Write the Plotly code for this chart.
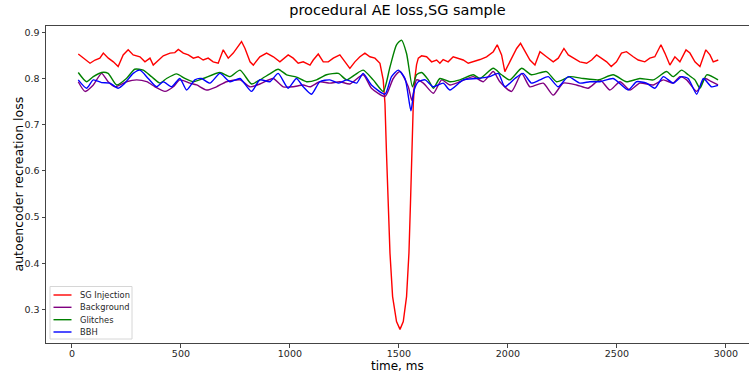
import plotly.graph_objects as go

# ---- data ----
sg_t = [29, 52, 83, 106, 128, 144, 167, 190, 212, 235, 258, 281, 312, 335, 358, 373, 396, 419, 450, 472,
        488, 511, 534, 557, 579, 602, 625, 648, 671, 694, 717, 740, 778, 794, 817, 832, 862, 893, 924, 954,
        992, 1015, 1038, 1061, 1092, 1107, 1130, 1153, 1176, 1199, 1229, 1252, 1275, 1298, 1321, 1344, 1367,
        1390, 1413, 1428, 1436, 1443, 1451, 1459, 1471, 1489, 1505, 1520, 1535, 1546, 1553, 1559, 1566,
        1573, 1581, 1589, 1604, 1627, 1650, 1673, 1688, 1703, 1726, 1749, 1772, 1795, 1818, 1841, 1872,
        1902, 1933, 1951, 1971, 1986, 2009, 2040, 2058, 2078, 2101, 2124, 2147, 2177, 2208, 2231, 2257,
        2277, 2300, 2330, 2361, 2384, 2407, 2430, 2453, 2474, 2498, 2521, 2544, 2575, 2598, 2628, 2651,
        2674, 2702, 2720, 2743, 2766, 2789, 2817, 2835, 2858, 2881, 2908, 2927, 2942, 2965]
sg_loss = [0.853, 0.844, 0.833, 0.840, 0.844, 0.855, 0.844, 0.836, 0.826, 0.851, 0.862, 0.851, 0.847, 0.836,
           0.844, 0.829, 0.840, 0.849, 0.855, 0.856, 0.863, 0.855, 0.851, 0.844, 0.847, 0.840, 0.844, 0.836,
           0.833, 0.862, 0.844, 0.855, 0.880, 0.865, 0.836, 0.829, 0.847, 0.855, 0.847, 0.836, 0.851, 0.844,
           0.833, 0.836, 0.829, 0.840, 0.853, 0.836, 0.836, 0.844, 0.851, 0.836, 0.822, 0.836, 0.847, 0.855,
           0.847, 0.844, 0.833, 0.797, 0.746, 0.638, 0.530, 0.422, 0.328, 0.274, 0.257, 0.274, 0.328, 0.422,
           0.530, 0.638, 0.746, 0.800, 0.830, 0.844, 0.849, 0.847, 0.836, 0.840, 0.833, 0.841, 0.836, 0.847,
           0.844, 0.840, 0.833, 0.836, 0.841, 0.847, 0.858, 0.873, 0.851, 0.815, 0.836, 0.865, 0.876, 0.858,
           0.840, 0.829, 0.858, 0.847, 0.836, 0.844, 0.865, 0.851, 0.844, 0.836, 0.833, 0.840, 0.851, 0.844,
           0.836, 0.826, 0.836, 0.855, 0.858, 0.847, 0.840, 0.836, 0.844, 0.847, 0.873, 0.855, 0.829, 0.847,
           0.836, 0.862, 0.855, 0.836, 0.826, 0.862, 0.851, 0.836, 0.840]

bg_t = [29, 60, 98, 136, 166, 197, 250, 297, 343, 381, 427, 465, 495, 541, 572, 618, 663, 709, 771, 817,
        862, 923, 969, 1015, 1061, 1092, 1137, 1183, 1229, 1275, 1336, 1374, 1436, 1474, 1505, 1543, 1559,
        1581, 1612, 1658, 1696, 1734, 1780, 1841, 1887, 1933, 1963, 2017, 2063, 2101, 2162, 2208, 2254,
        2315, 2368, 2422, 2468, 2514, 2560, 2605, 2667, 2713, 2758, 2789, 2820, 2866, 2904, 2934, 2964]
bg_loss = [0.793, 0.772, 0.786, 0.811, 0.793, 0.782, 0.793, 0.797, 0.793, 0.782, 0.772, 0.782, 0.797, 0.790,
           0.786, 0.775, 0.782, 0.793, 0.797, 0.782, 0.788, 0.800, 0.782, 0.782, 0.786, 0.782, 0.793, 0.790,
           0.793, 0.788, 0.808, 0.779, 0.761, 0.800, 0.815, 0.782, 0.753, 0.797, 0.790, 0.768, 0.797, 0.786,
           0.793, 0.804, 0.793, 0.815, 0.793, 0.772, 0.811, 0.782, 0.790, 0.764, 0.790, 0.786, 0.779, 0.797,
           0.775, 0.793, 0.775, 0.790, 0.786, 0.797, 0.790, 0.804, 0.797, 0.772, 0.800, 0.793, 0.786]

gl_t = [29, 67, 98, 136, 166, 205, 250, 288, 327, 365, 404, 434, 480, 518, 556, 602, 679, 725, 771, 824,
        862, 908, 946, 985, 1030, 1076, 1122, 1168, 1222, 1260, 1298, 1336, 1382, 1428, 1459, 1489, 1512,
        1535, 1562, 1581, 1604, 1635, 1658, 1688, 1734, 1780, 1841, 1872, 1933, 1971, 2009, 2063, 2108,
        2177, 2223, 2284, 2346, 2414, 2483, 2544, 2605, 2667, 2728, 2758, 2797, 2827, 2858, 2881, 2912, 2964]
gl_loss = [0.813, 0.793, 0.804, 0.813, 0.811, 0.786, 0.800, 0.820, 0.818, 0.804, 0.790, 0.800, 0.810, 0.800,
           0.793, 0.800, 0.813, 0.804, 0.818, 0.788, 0.797, 0.810, 0.820, 0.808, 0.803, 0.793, 0.797, 0.808,
           0.811, 0.797, 0.808, 0.818, 0.797, 0.772, 0.825, 0.873, 0.883, 0.854, 0.782, 0.808, 0.813, 0.797,
           0.779, 0.800, 0.793, 0.797, 0.808, 0.800, 0.822, 0.808, 0.797, 0.822, 0.808, 0.815, 0.793, 0.804,
           0.800, 0.797, 0.808, 0.793, 0.800, 0.797, 0.815, 0.804, 0.818, 0.808, 0.797, 0.779, 0.808, 0.797]

bbh_t = [29, 67, 98, 136, 174, 212, 243, 281, 312, 350, 388, 419, 457, 495, 526, 564, 594, 633, 679, 725,
         771, 824, 862, 908, 946, 992, 1030, 1061, 1099, 1137, 1183, 1222, 1260, 1306, 1336, 1374, 1436,
         1466, 1497, 1528, 1555, 1570, 1589, 1620, 1658, 1703, 1734, 1795, 1856, 1917, 1956, 1986, 2032,
         2070, 2108, 2147, 2185, 2231, 2277, 2330, 2376, 2422, 2483, 2552, 2590, 2636, 2674, 2713, 2758,
         2797, 2827, 2866, 2897, 2934, 2964]
bbh_loss = [0.797, 0.779, 0.797, 0.791, 0.790, 0.779, 0.790, 0.811, 0.818, 0.800, 0.782, 0.793, 0.782, 0.800,
            0.775, 0.797, 0.800, 0.790, 0.811, 0.793, 0.800, 0.772, 0.797, 0.793, 0.811, 0.779, 0.800, 0.782,
            0.766, 0.793, 0.797, 0.790, 0.797, 0.790, 0.811, 0.786, 0.766, 0.804, 0.818, 0.800, 0.730, 0.775,
            0.793, 0.797, 0.782, 0.790, 0.775, 0.797, 0.800, 0.804, 0.811, 0.782, 0.800, 0.811, 0.790, 0.797,
            0.804, 0.782, 0.804, 0.790, 0.793, 0.793, 0.800, 0.775, 0.793, 0.790, 0.779, 0.804, 0.790, 0.804,
            0.800, 0.766, 0.800, 0.782, 0.785]

series_names = ["SG Injection", "Background", "Glitches", "BBH"]
series_colors = ["#ff0000", "#800080", "#008000", "#0000ff"]
x_ticks = [0, 500, 1000, 1500, 2000, 2500, 3000]
y_ticks = [0.3, 0.4, 0.5, 0.6, 0.7, 0.8, 0.9]

FONT = "DejaVu Sans"
W, H = 749, 374
ML, MR, MT, MB = 46, 0, 26, 31
PW, PH = W - ML - MR, H - MT - MB


def px_x(p):  # pixel -> paper fraction
    return (p - ML) / PW


def px_y(p):
    return (H - MB - p) / PH


fig = go.Figure()
data = [(sg_t, sg_loss, "linear"), (bg_t, bg_loss, "spline"), (gl_t, gl_loss, "spline"), (bbh_t, bbh_loss, "spline")]
for (t, v, shp), name, col in zip(data, series_names, series_colors):
    line = dict(color=col, width=1.4, shape=shp)
    if shp == "spline":
        line["smoothing"] = 0.6
    fig.add_trace(go.Scatter(x=t, y=v, mode="lines", name=name, line=line, showlegend=False))

# custom legend (matplotlib-like compact spacing)
shapes = [dict(type="rect", xref="paper", yref="paper", x0=px_x(50), x1=px_x(132), y0=px_y(339), y1=px_y(286.5),
               line=dict(color="#d6d6d6", width=1), fillcolor="rgba(255,255,255,0.85)", layer="above")]
annotations = []
rows = [295, 307.3, 319.7, 332]
for name, col, ry in zip(series_names, series_colors, rows):
    shapes.append(dict(type="line", xref="paper", yref="paper", x0=px_x(53.5), x1=px_x(71.5),
                       y0=px_y(ry), y1=px_y(ry), line=dict(color=col, width=1.4), layer="above"))
    annotations.append(dict(xref="paper", yref="paper", x=px_x(77.5), y=px_y(ry), text=name, showarrow=False,
                            xanchor="left", yanchor="middle", font=dict(size=8.3, family=FONT, color="#262626")))

# axis titles
annotations.append(dict(xref="paper", yref="paper", x=0.5, y=px_y(366), text="time, ms", showarrow=False,
                        xanchor="center", yanchor="middle", font=dict(size=12, family=FONT, color="black")))
annotations.append(dict(xref="paper", yref="paper", x=px_x(18), y=0.5, text="autoencoder recreation loss",
                        showarrow=False, textangle=-90, xanchor="center", yanchor="middle",
                        font=dict(size=12.5, family=FONT, color="black")))

fig.update_layout(
    width=W, height=H,
    margin=dict(l=ML, r=MR, t=MT, b=MB),
    paper_bgcolor="white", plot_bgcolor="white",
    font=dict(family=FONT, color="#262626"),
    title=dict(text="procedural AE loss,SG sample", x=0.5, xref="paper", xanchor="center",
               y=1, yref="container", yanchor="top", pad=dict(t=5),
               font=dict(size=14.5, color="black", family=FONT)),
    showlegend=False,
    shapes=shapes,
    annotations=annotations,
)
fig.update_xaxes(range=[-119, 3106], tickvals=x_ticks, ticktext=[str(v) for v in x_ticks],
                 showgrid=False, zeroline=False, showline=True, linecolor="#444", linewidth=1,
                 mirror=True, ticks="outside", ticklen=3.5, tickcolor="#444", ticklabelstandoff=-2,
                 tickfont=dict(size=9.5, family=FONT, color="#262626"))
fig.update_yaxes(range=[0.2275, 0.9136], tickvals=y_ticks, ticktext=["%.1f" % v for v in y_ticks],
                 showgrid=False, zeroline=False, showline=True, linecolor="#444", linewidth=1,
                 ticks="outside", ticklen=3.5, tickcolor="#444",
                 tickfont=dict(size=9.5, family=FONT, color="#262626"))

fig.write_html("out.html")
